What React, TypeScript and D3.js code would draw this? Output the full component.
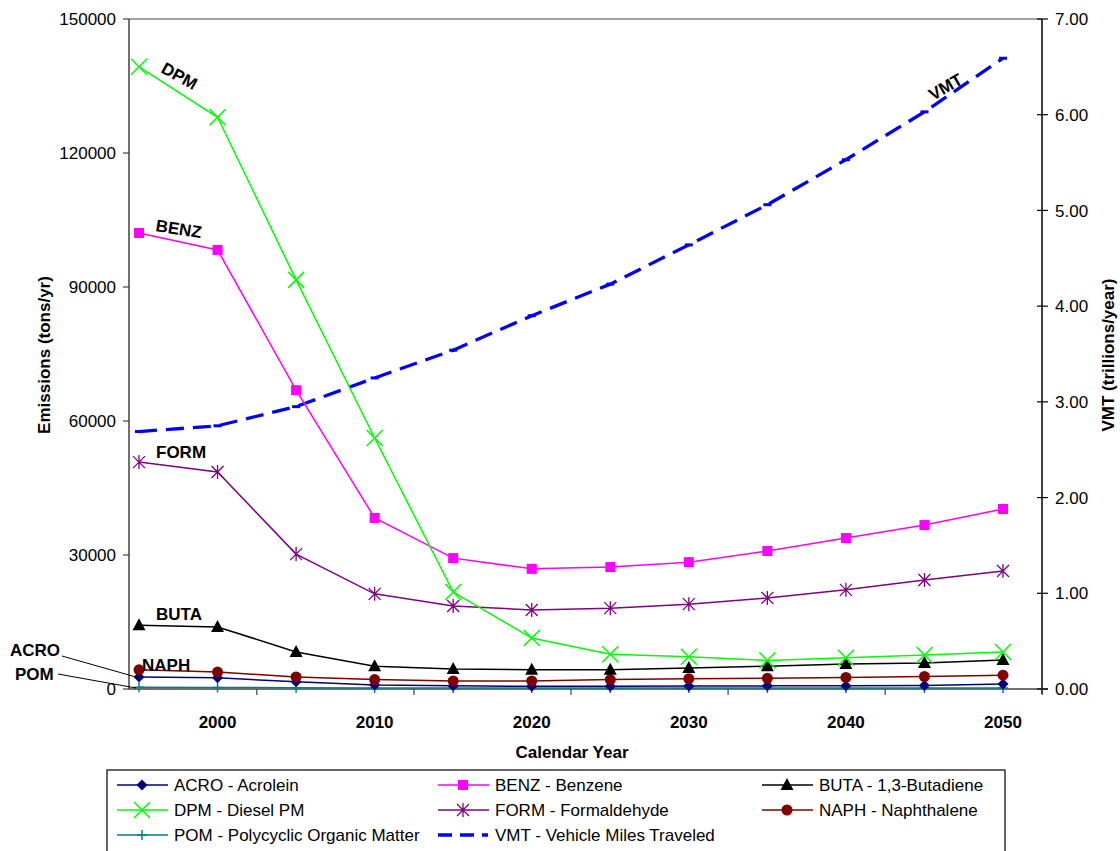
import React from 'react';
import * as d3 from 'd3';

const years = [1995, 2000, 2005, 2010, 2015, 2020, 2025, 2030, 2035, 2040, 2045, 2050];
const yearLabels = [2000, 2010, 2020, 2030, 2040, 2050];
const emissionTicks = [0, 30000, 60000, 90000, 120000, 150000];
const vmtTicks = [0, 1, 2, 3, 4, 5, 6, 7];

const acro = [2700, 2500, 1600, 900, 700, 600, 600, 650, 700, 750, 800, 1100];
const benz = [102100, 98300, 66900, 38300, 29300, 26900, 27300, 28400, 30900, 33800, 36700, 40300];
const buta = [14300, 13900, 8300, 5100, 4500, 4300, 4300, 4700, 5100, 5600, 5800, 6500];
const dpm = [139300, 128000, 91600, 56200, 21700, 11400, 7800, 7200, 6400, 7000, 7600, 8300];
const form = [50800, 48600, 30200, 21300, 18600, 17700, 18100, 19000, 20400, 22200, 24400, 26400];
const naph = [4300, 3800, 2700, 2100, 1800, 1800, 2100, 2300, 2400, 2600, 2800, 3100];
const pom = [400, 350, 300, 250, 250, 250, 250, 250, 250, 250, 250, 250];
const vmt = [2.69, 2.75, 2.95, 3.25, 3.54, 3.9, 4.23, 4.64, 5.06, 5.53, 6.03, 6.59];

const left = 129, right = 1042, top = 19, bottom = 689;
const FONT = '"Liberation Sans", Arial, sans-serif';

type Series = { key: string; label: string; values: number[]; color: string; marker: string };

const series: Series[] = [
  { key: 'POM', label: 'POM - Polycyclic Organic Matter', values: pom, color: '#008080', marker: 'plus' },
  { key: 'ACRO', label: 'ACRO - Acrolein', values: acro, color: '#000080', marker: 'diamond' },
  { key: 'NAPH', label: 'NAPH - Naphthalene', values: naph, color: '#800000', marker: 'circle' },
  { key: 'BUTA', label: 'BUTA - 1,3-Butadiene', values: buta, color: '#000000', marker: 'triangle' },
  { key: 'FORM', label: 'FORM - Formaldehyde', values: form, color: '#800080', marker: 'star' },
  { key: 'BENZ', label: 'BENZ - Benzene', values: benz, color: '#ff00ff', marker: 'square' },
  { key: 'DPM', label: 'DPM - Diesel PM', values: dpm, color: '#00ff00', marker: 'x' },
];

const Marker = ({ type, x, y, color }: { type: string; x: number; y: number; color: string }) => {
  switch (type) {
    case 'square':
      return <rect x={x - 5} y={y - 5} width={10} height={10} fill={color} />;
    case 'circle':
      return <circle cx={x} cy={y} r={5.5} fill={color} />;
    case 'triangle':
      return <path d={`M${x},${y - 7}L${x + 6.5},${y + 5}L${x - 6.5},${y + 5}Z`} fill={color} />;
    case 'diamond':
      return <path d={`M${x},${y - 5.5}L${x + 5.5},${y}L${x},${y + 5.5}L${x - 5.5},${y}Z`} fill={color} />;
    case 'x':
      return <path d={`M${x - 8},${y - 8}L${x + 8},${y + 8}M${x - 8},${y + 8}L${x + 8},${y - 8}`} stroke={color} strokeWidth={1.5} />;
    case 'plus':
      return <path d={`M${x - 5},${y}L${x + 5},${y}M${x},${y - 5}L${x},${y + 5}`} stroke={color} strokeWidth={1.5} />;
    case 'star':
      return (
        <path
          d={`M${x - 6},${y - 6}L${x + 6},${y + 6}M${x - 6},${y + 6}L${x + 6},${y - 6}M${x},${y - 7}L${x},${y + 7}`}
          stroke={color}
          strokeWidth={1.3}
        />
      );
    default:
      return null;
  }
};

const App = () => {
  const x = d3.scaleLinear().domain([1995, 2050]).range([139, 1003]);
  const y = d3.scaleLinear().domain([0, 150000]).range([bottom, top]);
  const y2 = d3.scaleLinear().domain([0, 7]).range([bottom, top]);

  const line = d3.line<number>().x((_, i) => x(years[i])).y(d => y(d));
  const vmtLine = d3.line<number>().x((_, i) => x(years[i])).y(d => y2(d));

  const minorTicks = d3.range(2002.5, 2053, 10);

  const legendCols = [117, 438, 762];
  const legendRows = [785, 810, 835];
  const legendItems = [
    series[1], series[5], series[3],
    series[6], series[4], series[2],
    series[0],
  ];

  return (
    <svg width={1120} height={851} style={{ display: 'block', position: 'absolute', left: 0, top: 0 }} fontFamily={FONT}>
      <rect width={1120} height={851} fill="#fff" />

      {/* plot frame */}
      <line x1={left} x2={right} y1={top} y2={top} stroke="#808080" strokeWidth={1.5} />
      <line x1={left} x2={left} y1={top} y2={bottom} stroke="#404040" strokeWidth={1.5} />
      <line x1={right} x2={right} y1={top} y2={bottom + 5} stroke="#000" strokeWidth={1.5} />
      <line x1={left} x2={right + 6} y1={bottom} y2={bottom} stroke="#404040" strokeWidth={1.5} />

      {/* left axis */}
      {emissionTicks.map(t => (
        <g key={t}>
          <line x1={left - 6} x2={left} y1={y(t)} y2={y(t)} stroke="#404040" strokeWidth={1.2} />
          <text x={116} y={y(t)} dy="0.36em" textAnchor="end" fontSize={17}>{t}</text>
        </g>
      ))}

      {/* right axis */}
      {vmtTicks.map(t => (
        <g key={t}>
          <line x1={right - 5} x2={right + 6} y1={y2(t)} y2={y2(t)} stroke="#000" strokeWidth={1.2} />
          <text x={1055} y={y2(t)} dy="0.36em" fontSize={17}>{t.toFixed(2)}</text>
        </g>
      ))}

      {/* x axis */}
      {minorTicks.map(t => (
        <line key={t} x1={x(t)} x2={x(t)} y1={bottom} y2={bottom + 6} stroke="#404040" strokeWidth={1.2} />
      ))}
      {yearLabels.map(t => (
        <text key={t} x={x(t)} y={728} textAnchor="middle" fontSize={17} fontWeight="bold">{t}</text>
      ))}

      {/* axis titles */}
      <text x={572} y={758} textAnchor="middle" fontSize={17} fontWeight="bold">Calendar Year</text>
      <text transform="translate(50,355) rotate(-90)" textAnchor="middle" fontSize={17} fontWeight="bold">Emissions (tons/yr)</text>
      <text transform="translate(1114,355) rotate(-90)" textAnchor="middle" fontSize={17} fontWeight="bold">VMT (trillions/year)</text>

      {/* VMT */}
      <path d={vmtLine(vmt) || ''} fill="none" stroke="#0000ff" strokeWidth={3.3} strokeDasharray="18,9" />
      {vmt.map((v, i) => (
        <line key={i} x1={x(years[i]) - 4} x2={x(years[i]) + 4} y1={y2(v)} y2={y2(v)} stroke="#0000ff" strokeWidth={3} />
      ))}

      {/* emission series */}
      {series.map(s => (
        <g key={s.key}>
          <path d={line(s.values) || ''} fill="none" stroke={s.color} strokeWidth={1.5} />
          {s.values.map((v, i) => (
            <Marker key={i} type={s.marker} x={x(years[i])} y={y(v)} color={s.color} />
          ))}
        </g>
      ))}

      {/* inline labels */}
      <g fontSize={17} fontWeight="bold">
        <text transform="translate(160,72) rotate(29)">DPM</text>
        <text transform="translate(155,231) rotate(9)">BENZ</text>
        <text x={156} y={458}>FORM</text>
        <text x={156} y={620}>BUTA</text>
        <text x={142} y={671}>NAPH</text>
        <text transform="translate(933,101) rotate(-30)">VMT</text>
        <text x={10} y={656}>ACRO</text>
        <text x={15} y={680}>POM</text>
      </g>
      <line x1={62} y1={656} x2={136} y2={677} stroke="#000" strokeWidth={1} />
      <line x1={58} y1={674} x2={136} y2={688} stroke="#000" strokeWidth={1} />

      {/* legend */}
      <rect x={107} y={770} width={898} height={90} fill="#fff" stroke="#000" strokeWidth={1.2} />
      {legendItems.map((s, i) => {
        const lx = legendCols[i % 3];
        const ly = legendRows[Math.floor(i / 3)];
        return (
          <g key={s.key}>
            <line x1={lx} x2={lx + 51} y1={ly} y2={ly} stroke={s.color} strokeWidth={1.5} />
            <Marker type={s.marker} x={lx + 25} y={ly} color={s.color} />
            <text x={lx + 57} y={ly} dy="0.36em" fontSize={17}>{s.label}</text>
          </g>
        );
      })}
      <g>
        <line x1={438} x2={488} y1={835} y2={835} stroke="#0000ff" strokeWidth={3.5} strokeDasharray="14,8" />
        <text x={495} y={835} dy="0.36em" fontSize={17}>VMT - Vehicle Miles Traveled</text>
      </g>
    </svg>
  );
};

export default App;
